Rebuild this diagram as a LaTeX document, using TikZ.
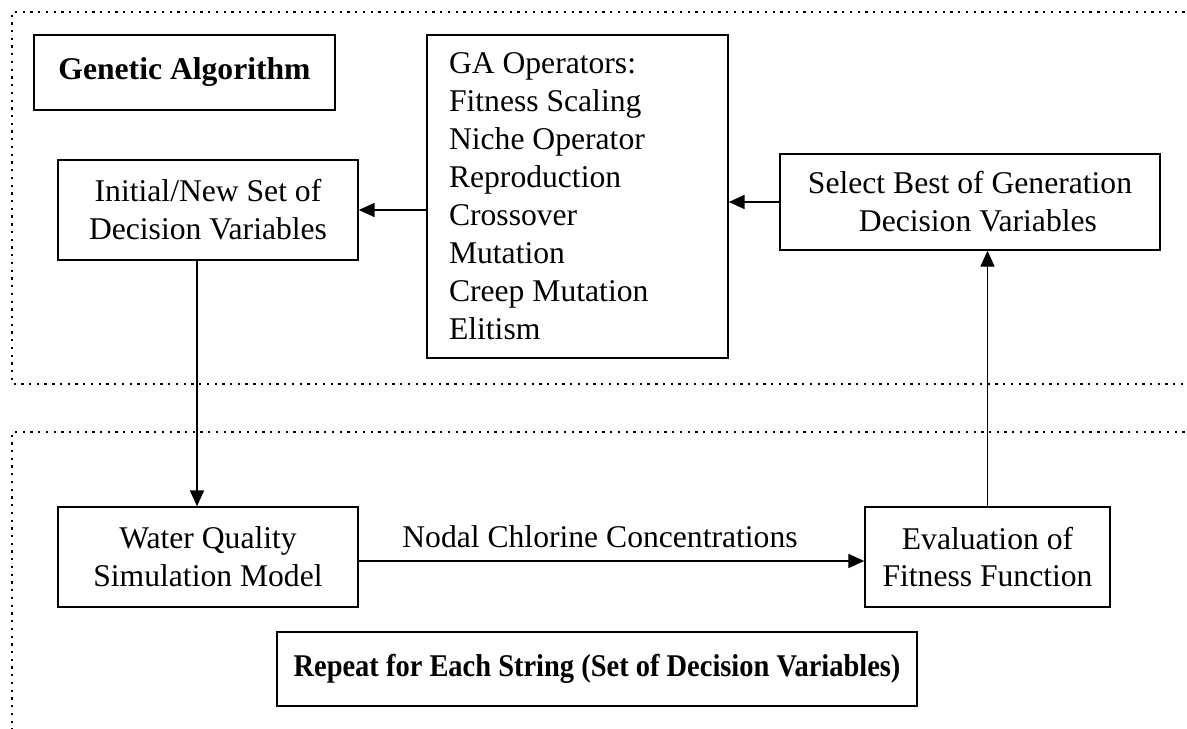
\documentclass[tikz,border=0pt]{standalone}
\usepackage{fontspec}
\setmainfont{Liberation Serif}
\usetikzlibrary{arrows.meta}
\begin{document}
\begin{tikzpicture}[
x=0.02cm,y=-0.02cm,
box/.style={draw,line width=0.9pt,font=\fontsize{18}{21.6}\selectfont,align=center,inner sep=0pt},
title/.style={box,font=\fontsize{18}{21.6}\selectfont\bfseries},
frame/.style={line width=1.3pt,dash pattern=on 1.3pt off 3.1pt},
link/.style={line width=0.9pt,-{Triangle[length=9pt,width=8pt]}},
thinlink/.style={link,line width=0.6pt},
]
\useasboundingbox (0,0) rectangle (1187,729);
% dotted frames
\draw[frame] (1200,12) -- (12,12) -- (12,384) -- (1200,384);
\draw[frame] (1200,432) -- (12,432) -- (12,740);
% boxes
\node[title,minimum width=6.02cm,minimum height=1.5cm] (ga) at (184.5,72.5) {Genetic Algorithm};
\node[box,align=flush left,text width=5.14cm,inner xsep=0.44cm,minimum height=6.46cm] (ops) at (577.5,196.5)
  {GA Operators:\\Fitness Scaling\\Niche Operator\\Reproduction\\Crossover\\Mutation\\Creep Mutation\\Elitism};
\node[box,minimum width=6cm,minimum height=2cm] (init) at (208,210) {Initial/New Set of\\Decision Variables};
\node[box,minimum width=7.6cm,minimum height=1.92cm] (sel) at (970,202) {Select Best of Generation\\\ \ Decision Variables};
\node[box,minimum width=6cm,minimum height=2cm] (water) at (208,557) {Water Quality\\Simulation Model};
\node[box,minimum width=4.9cm,minimum height=2cm] (eval) at (987.5,557) {Evaluation of\\Fitness Function};
\node[title,minimum width=12.8cm,minimum height=1.48cm] (rep) at (597,669)
  {\scalebox{0.9}[1]{Repeat for Each String (Set of Decision Variables)}};
\node[font=\fontsize{18}{21.6}\selectfont,inner sep=0pt] (conc) at (600,537) {Nodal Chlorine Concentrations};
% connectors
\draw[link] (ops.west |- init.east) -- (init.east);
\draw[link] (sel.west) -- (sel.west -| ops.east);
\draw[link] ([xshift=-0.22cm]init.south) -- ([xshift=-0.22cm]water.north);
\draw[thinlink] ([yshift=-0.08cm]water.east) -- ([yshift=-0.08cm]eval.west);
\draw[thinlink] (eval.north) -- (eval.north |- sel.south);
\end{tikzpicture}
\end{document}
